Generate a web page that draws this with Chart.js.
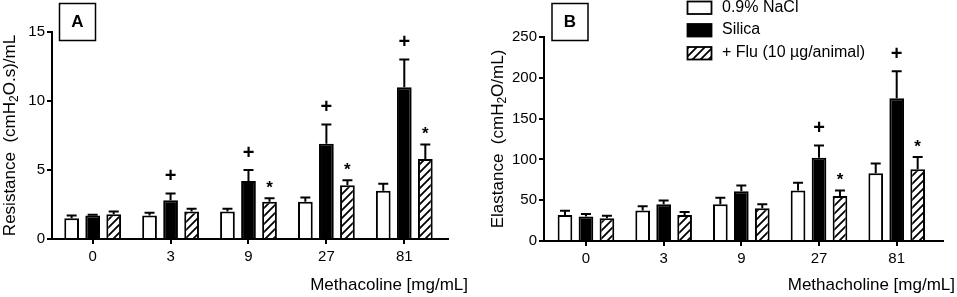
<!DOCTYPE html>
<html>
<head>
<meta charset="utf-8">
<script src="https://cdn.jsdelivr.net/npm/chart.js@4/dist/chart.umd.min.js"></script>
<style>
    html, body { margin: 0; padding: 0; background: #fff; }
    #wrap { position: relative; width: 957px; height: 297px; }
    .panel { position: absolute; top: 0; height: 297px; }
    #panelA { left: 0; width: 480px; }
    #panelB { left: 480px; width: 477px; }
</style>
</head>
<body>
<div id="wrap">
    <div class="panel" id="panelA"><canvas id="chartA" width="480" height="297"></canvas></div>
    <div class="panel" id="panelB"><canvas id="chartB" width="477" height="297"></canvas></div>
</div>
<script>
const doses = ['0', '3', '9', '27', '81'];
const groupNames = ['0.9% NaCl', 'Silica', '+ Flu (10 µg/animal)'];

// panel A - resistance
const resNaCl = [1.5, 1.7, 2.0, 2.7, 3.5];
const resNaClErr = [0.2, 0.2, 0.2, 0.3, 0.5];
const resSilica = [1.7, 2.8, 4.2, 6.9, 11.0];
const resSilicaErr = [0.05, 0.5, 0.8, 1.4, 2.0];
const resFlu = [1.8, 2.0, 2.7, 3.9, 5.8];
const resFluErr = [0.2, 0.2, 0.25, 0.35, 1.05];
const resSilicaMarks = ['', '+', '+', '+', '+'];
const resFluMarks = ['', '', '*', '*', '*'];
const resTicks = [0, 5, 10, 15];

// panel B - elastance
const elaNaCl = [32, 37.5, 45, 62, 83];
const elaNaClErr = [5, 5, 8, 9.5, 12];
const elaSilica = [30, 45, 61, 102, 175];
const elaSilicaErr = [3, 4.5, 7, 15, 33];
const elaFlu = [28, 32, 40, 55, 88];
const elaFluErr = [3, 3.5, 5, 7, 15];
const elaSilicaMarks = ['', '', '', '+', '+'];
const elaFluMarks = ['', '', '', '*', '*'];
const elaTicks = [0, 50, 100, 150, 200, 250];

const FONT = '"Liberation Sans", Arial, sans-serif';

function makeHatch() {
    const c = document.createElement('canvas');
    c.width = 8; c.height = 8;
    const g = c.getContext('2d');
    g.fillStyle = '#fff';
    g.fillRect(0, 0, 8, 8);
    g.strokeStyle = '#000';
    g.lineWidth = 1.8;
    g.beginPath();
    g.moveTo(-2, 10); g.lineTo(10, -2);
    g.moveTo(-2, 2); g.lineTo(2, -2);
    g.moveTo(6, 10); g.lineTo(10, 6);
    g.stroke();
    return g.createPattern(c, 'repeat');
}

const hatch = makeHatch();
const fills = ['#ffffff', '#000000', hatch];

function points(values) {
    return values.map((v, i) => ({ x: i, y: v }));
}

function drawRotatedTitle(ctx, parts, x, cy) {
    const big = 'normal 17px ' + FONT;
    const small = 'normal 12px ' + FONT;
    let total = 0;
    parts.forEach(p => {
        ctx.font = p.sub ? small : big;
        p.w = ctx.measureText(p.t).width;
        total += p.w;
    });
    ctx.save();
    ctx.translate(x, cy);
    ctx.rotate(-Math.PI / 2);
    ctx.fillStyle = '#000';
    ctx.textBaseline = 'middle';
    ctx.textAlign = 'left';
    let pos = -total / 2;
    parts.forEach(p => {
        ctx.font = p.sub ? small : big;
        ctx.fillText(p.t, pos, p.sub ? 5 : 0);
        pos += p.w;
    });
    ctx.restore();
}

const extras = {
    id: 'extras',
    afterDatasetsDraw(chart, args, opts) {
        const ctx = chart.ctx;
        const yScale = chart.scales.y;
        ctx.save();
        chart.data.datasets.forEach((ds, di) => {
            const meta = chart.getDatasetMeta(di);
            const errs = opts.errors[di];
            const marks = opts.marks[di];
            meta.data.forEach((bar, i) => {
                const top = yScale.getPixelForValue(ds.data[i].y + errs[i]);
                ctx.strokeStyle = '#000';
                ctx.lineWidth = 2;
                ctx.beginPath();
                ctx.moveTo(bar.x, bar.y);
                ctx.lineTo(bar.x, top);
                ctx.moveTo(bar.x - 5, top);
                ctx.lineTo(bar.x + 5, top);
                ctx.stroke();
                const m = marks ? marks[i] : '';
                if (m) {
                    ctx.fillStyle = '#000';
                    ctx.textAlign = 'center';
                    ctx.textBaseline = 'middle';
                    if (m === '+') {
                        ctx.font = 'bold 20px ' + FONT;
                        ctx.fillText(m, bar.x, top - 17);
                    } else {
                        ctx.font = 'bold 17px ' + FONT;
                        ctx.fillText(m, bar.x, top - 10);
                    }
                }
            });
        });
        ctx.restore();
    },
    afterDraw(chart, args, opts) {
        const ctx = chart.ctx;
        const area = chart.chartArea;
        ctx.save();
        // panel letter box
        ctx.strokeStyle = '#000';
        ctx.lineWidth = 1.5;
        ctx.strokeRect(opts.box[0], opts.box[1], 36, 37);
        ctx.fillStyle = '#000';
        ctx.font = 'bold 17px ' + FONT;
        ctx.textAlign = 'center';
        ctx.textBaseline = 'middle';
        ctx.fillText(opts.letter, opts.box[0] + 18, opts.box[1] + 19);

        drawRotatedTitle(ctx, opts.yTitle, opts.yTitleX, (area.top + area.bottom) / 2);

        ctx.font = 'normal 17px ' + FONT;
        ctx.textAlign = 'right';
        ctx.textBaseline = 'middle';
        ctx.fillText(opts.xTitle, opts.xTitleRight, 285);

        if (opts.legend) {
            const rows = [7.5, 30, 53];
            ctx.font = 'normal 16px ' + FONT;
            ctx.textAlign = 'left';
            rows.forEach((ry, k) => {
                ctx.fillStyle = fills[k];
                ctx.fillRect(207.5, ry - 6, 24, 12.5);
                ctx.strokeStyle = '#000';
                ctx.lineWidth = 1.8;
                ctx.strokeRect(207.5, ry - 6, 24, 12.5);
                ctx.fillStyle = '#000';
                ctx.fillText(groupNames[k], 242, ry);
            });
        }
        ctx.restore();
    }
};

function buildChart(canvasId, cfg) {
    const datasets = cfg.series.map((vals, k) => ({
        label: groupNames[k],
        data: points(vals),
        backgroundColor: fills[k],
        borderColor: '#000',
        borderWidth: 2,
        borderSkipped: 'bottom',
        categoryPercentage: 0.81,
        barPercentage: 0.7
    }));
    return new Chart(document.getElementById(canvasId), {
        type: 'bar',
        data: { datasets },
        options: {
            responsive: false,
            animation: false,
            devicePixelRatio: 1,
            layout: { padding: { left: 0, right: cfg.padRight, top: cfg.padTop, bottom: 0 } },
            plugins: {
                legend: { display: false },
                tooltip: { enabled: false },
                extras: cfg.extras
            },
            scales: {
                x: {
                    type: 'linear',
                    min: cfg.xMin,
                    max: cfg.xMax,
                    offset: false,
                    afterBuildTicks: s => { s.ticks = doses.map((d, i) => ({ value: i })); },
                    afterFit: s => { s.height = cfg.xHeight; },
                    ticks: {
                        callback: v => doses[v],
                        color: '#000',
                        padding: 4,
                        maxRotation: 0,
                        font: { family: FONT, size: 15 }
                    },
                    grid: { drawOnChartArea: false, offset: false, color: '#000', lineWidth: 2, tickLength: 5 },
                    border: { color: '#000', width: 2 }
                },
                y: {
                    min: 0,
                    max: cfg.yTicks[cfg.yTicks.length - 1],
                    afterBuildTicks: s => { s.ticks = cfg.yTicks.map(v => ({ value: v })); },
                    afterFit: s => { s.width = cfg.yWidth; },
                    ticks: {
                        color: '#000',
                        padding: 2,
                        font: { family: FONT, size: 15 }
                    },
                    grid: { drawOnChartArea: false, color: '#000', lineWidth: 2, tickLength: 5 },
                    border: { color: '#000', width: 2 }
                }
            }
        },
        plugins: [extras]
    });
}

buildChart('chartA', {
    series: [resNaCl, resSilica, resFlu],
    yTicks: resTicks,
    xMin: -0.522, xMax: 4.561,
    yWidth: 52, padRight: 32, padTop: 32, xHeight: 58,
    extras: {
        errors: [resNaClErr, resSilicaErr, resFluErr],
        marks: [null, resSilicaMarks, resFluMarks],
        letter: 'A',
        box: [59.5, 3.5],
        yTitle: [{ t: 'Resistance  (cmH' }, { t: '2', sub: true }, { t: 'O.s)/mL' }],
        yTitleX: 10,
        xTitle: 'Methacoline [mg/mL]',
        xTitleRight: 468,
        legend: false
    }
});

buildChart('chartB', {
    series: [elaNaCl, elaSilica, elaFlu],
    yTicks: elaTicks,
    xMin: -0.54, xMax: 4.596,
    yWidth: 64, padRight: 14, padTop: 37, xHeight: 56,
    extras: {
        errors: [elaNaClErr, elaSilicaErr, elaFluErr],
        marks: [null, elaSilicaMarks, elaFluMarks],
        letter: 'B',
        box: [72, 3.5],
        yTitle: [{ t: 'Elastance  (cmH' }, { t: '2', sub: true }, { t: 'O/mL)' }],
        yTitleX: 18,
        xTitle: 'Methacholine [mg/mL]',
        xTitleRight: 475,
        legend: true
    }
});
</script>
</body>
</html>
